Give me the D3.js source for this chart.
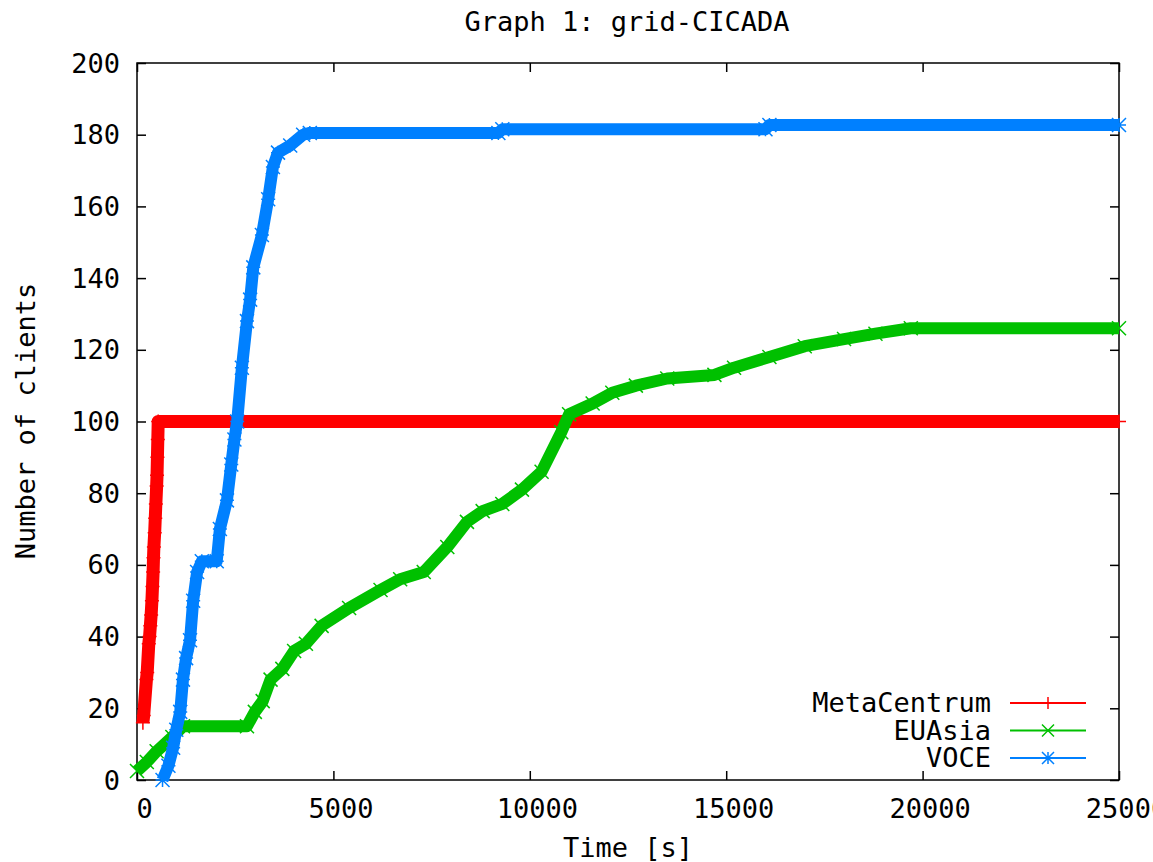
<!DOCTYPE html>
<html>
<head>
<meta charset="utf-8">
<script src="https://cdn.jsdelivr.net/npm/d3@7"></script>
<style>
  body { margin: 0; background: #fff; }
  text { font-family: "DejaVu Sans Mono", monospace; font-size: 27px; fill: #000; }
</style>
</head>
<body>
<script>
// readings taken off the original plot (time in s, number of clients)
var metaTime    = [150, 170, 240, 260, 300, 320, 340, 360, 380, 395, 410, 420, 430, 450, 465, 480, 500, 510, 520, 530, 540, 25000];
var metaClients = [16, 18, 28, 30, 38, 40, 43, 46, 50, 54, 58, 62, 65, 69, 73, 77, 82, 85, 90, 95, 100, 100];

var euTime    = [0, 250, 500, 900, 1170, 2800, 3000, 3200, 3400, 3700, 4000, 4300, 4700, 5400, 6200, 6700, 7300, 7900, 8400, 8800, 9300, 9800, 10300, 10800, 11000, 11600, 12100, 12700, 13500, 14700, 15200, 16100, 17000, 18000, 18800, 19700, 25000];
var euClients = [2.5, 5, 8, 12, 15, 15, 19, 22, 28, 31, 36, 38, 43, 48, 53, 56, 58, 65, 72, 75, 77, 81, 86, 97, 102, 105, 108, 110, 112, 113, 115, 118, 121, 123, 124.5, 126, 126];

var voceTime    = [650, 800, 920, 1000, 1100, 1170, 1250, 1350, 1430, 1530, 1650, 2030, 2110, 2290, 2400, 2480, 2550, 2670, 2800, 2880, 2960, 3180, 3340, 3460, 3590, 3900, 4230, 4400, 9200, 9300, 16000, 16100, 25000];
var voceClients = [0, 4, 9, 14, 19, 28, 34, 39, 50, 58, 61, 61, 70, 78, 88, 95, 100, 115, 128, 134, 143, 152, 162, 171, 175, 177, 180, 180.5, 180.5, 181.5, 181.5, 182.7, 182.7];

var seriesNames = ["MetaCentrum", "EUAsia", "VOCE"];
var xTicks = [0, 5000, 10000, 15000, 20000, 25000];
var yTicks = [0, 20, 40, 60, 80, 100, 120, 140, 160, 180, 200];

var draw = function() {
  var margin = {top: 63, left: 137},
      width = 982,
      height = 717;

  var svg = d3.select("body").append("svg")
      .attr("width", 1153)
      .attr("height", 862);

  var g = svg.append("g")
      .attr("transform", "translate(" + margin.left + "," + margin.top + ")");

  var x = d3.scaleLinear().domain([0, 25000]).range([0, width]);
  var y = d3.scaleLinear().domain([0, 200]).range([height, 0]);

  var zip = function(ts, vs) {
    return ts.map(function(t, i) { return {x: t, y: vs[i]}; });
  };

  var series = [
    {name: seriesNames[0], data: zip(metaTime, metaClients), color: "#ff0000", shape: "plus", band: 13},
    {name: seriesNames[1], data: zip(euTime, euClients), color: "#00c000", shape: "cross", band: 12},
    {name: seriesNames[2], data: zip(voceTime, voceClients), color: "#0080ff", shape: "star", band: 12}
  ];

  var marker = function(shape, s) {
    var plus = "M" + (-s) + ",0H" + s + "M0," + (-s) + "V" + s;
    var cross = "M" + (-s) + "," + (-s) + "L" + s + "," + s + "M" + (-s) + "," + s + "L" + s + "," + (-s);
    if (shape == "plus") return plus;
    if (shape == "cross") return cross;
    return plus + cross;
  };

  // frame
  g.append("rect")
      .attr("width", width)
      .attr("height", height)
      .attr("fill", "none")
      .attr("stroke", "#000")
      .attr("stroke-width", 1.5);

  // gnuplot style ticks, inward on all four sides
  var tickLen = 9;
  g.append("g")
      .attr("transform", "translate(0," + height + ")")
      .call(d3.axisBottom(x).tickValues(xTicks).tickSize(-tickLen).tickPadding(20).tickFormat(d3.format("d")))
      .call(function(a) {
        a.select(".domain").remove();
        a.selectAll("text").attr("dx", 7).attr("y", 38).attr("dy", 0).attr("font-size", null).attr("font-family", null);
      });
  g.append("g")
      .call(d3.axisTop(x).tickValues(xTicks).tickSize(-tickLen).tickFormat(""))
      .call(function(a) { a.select(".domain").remove(); });
  g.append("g")
      .call(d3.axisLeft(y).tickValues(yTicks).tickSize(-tickLen).tickPadding(17))
      .call(function(a) {
        a.select(".domain").remove();
        a.selectAll("text").attr("dy", 9).attr("font-size", null).attr("font-family", null);
      });
  g.append("g")
      .attr("transform", "translate(" + width + ",0)")
      .call(d3.axisRight(y).tickValues(yTicks).tickSize(-tickLen).tickFormat(""))
      .call(function(a) { a.select(".domain").remove(); });
  g.selectAll(".tick line").attr("stroke", "#000").attr("stroke-width", 1.5);

  var line = d3.line()
      .x(function(d) { return x(d.x); })
      .y(function(d) { return y(d.y); });

  // data: dense point cloud drawn as a wide band plus markers on the readings
  series.forEach(function(s) {
    g.append("path")
        .datum(s.data)
        .attr("fill", "none")
        .attr("stroke", s.color)
        .attr("stroke-width", s.band)
        .attr("stroke-linejoin", "round")
        .attr("d", line);

    g.selectAll(null)
        .data(s.data)
        .enter().append("path")
        .attr("transform", function(d) { return "translate(" + x(d.x) + "," + y(d.y) + ")"; })
        .attr("d", marker(s.shape, 7))
        .attr("fill", "none")
        .attr("stroke", s.color)
        .attr("stroke-width", 1.5);
  });

  // legend
  series.forEach(function(s, i) {
    var ly = 703 + i * 27.5;
    svg.append("text")
        .attr("x", 991)
        .attr("y", ly + 9)
        .attr("text-anchor", "end")
        .text(s.name);
    svg.append("line")
        .attr("x1", 1010).attr("x2", 1086)
        .attr("y1", ly).attr("y2", ly)
        .attr("stroke", s.color)
        .attr("stroke-width", 2);
    svg.append("path")
        .attr("transform", "translate(1048," + ly + ")")
        .attr("d", marker(s.shape, 6))
        .attr("fill", "none")
        .attr("stroke", s.color)
        .attr("stroke-width", 1.5);
  });

  // titles
  svg.append("text")
      .attr("x", 627)
      .attr("y", 31)
      .attr("text-anchor", "middle")
      .text("Graph 1: grid-CICADA");

  svg.append("text")
      .attr("x", 628)
      .attr("y", 857)
      .attr("text-anchor", "middle")
      .text("Time [s]");

  svg.append("text")
      .attr("transform", "translate(35,421) rotate(-90)")
      .attr("text-anchor", "middle")
      .text("Number of clients");
};

window.onload = function() {
  draw();
};
</script>
</body>
</html>
